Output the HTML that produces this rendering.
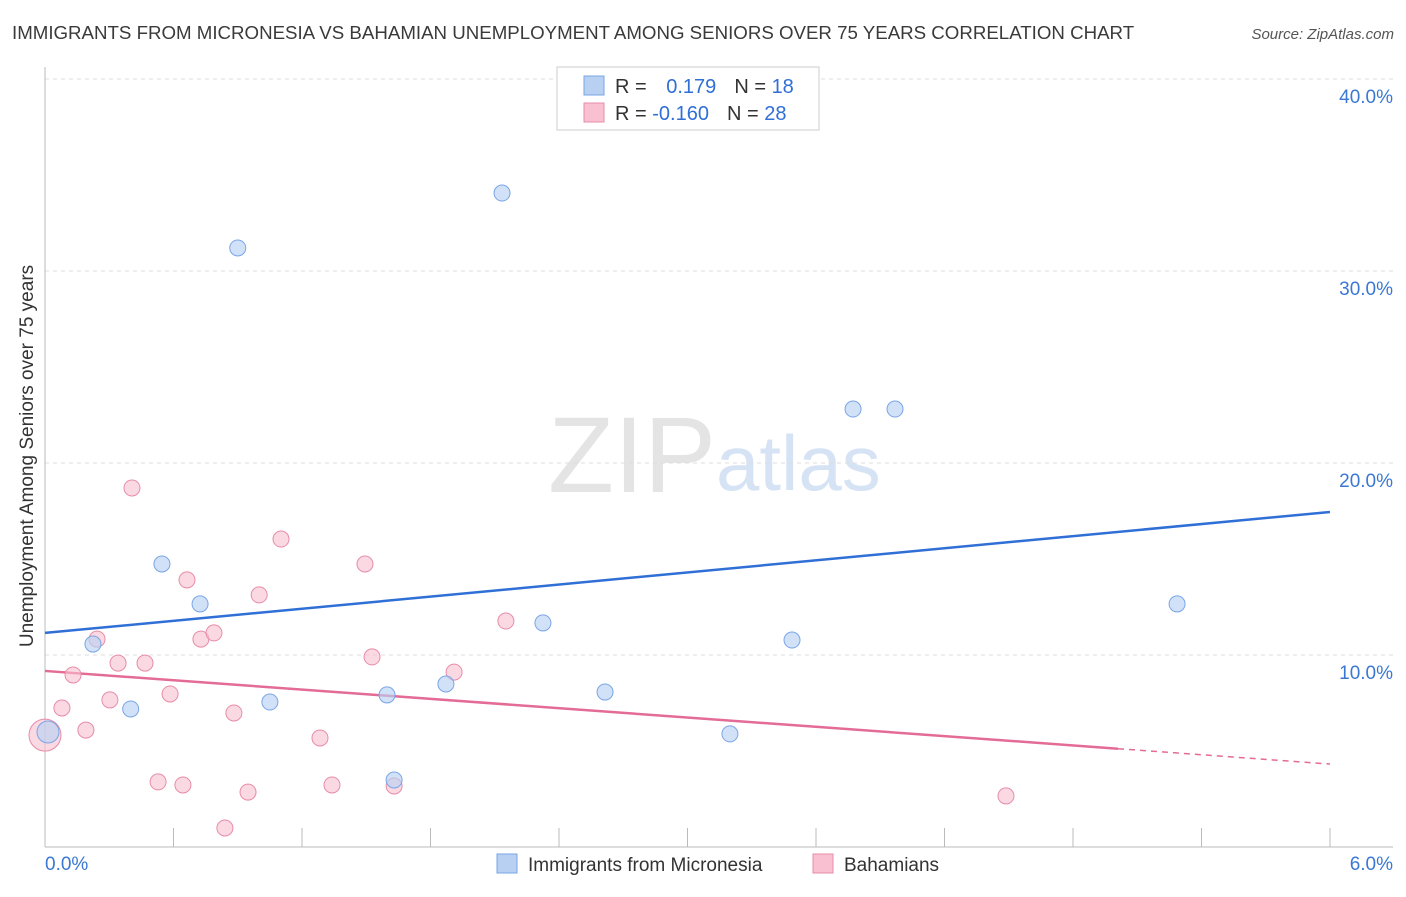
<!DOCTYPE html>
<html><head><meta charset="utf-8"><style>
body{margin:0;background:#fff;font-family:"Liberation Sans",sans-serif;}
svg text{font-family:"Liberation Sans",sans-serif;}
</style></head><body>
<svg id="chart" width="1406" height="892" viewBox="0 0 1406 892">
<text x="12" y="39" font-size="18.7" fill="#3a3a3a">IMMIGRANTS FROM MICRONESIA VS BAHAMIAN UNEMPLOYMENT AMONG SENIORS OVER 75 YEARS CORRELATION CHART</text>
<text x="1394" y="39" font-size="15" fill="#555" text-anchor="end" font-style="italic">Source: ZipAtlas.com</text>
<text x="716" y="492" font-size="108" fill="#e4e4e4" text-anchor="end" font-family="Liberation Serif">ZIP</text>
<text x="716" y="490" font-size="78" fill="#d6e3f5">atlas</text>
<text transform="translate(33,456) rotate(-90)" font-size="19" fill="#333" text-anchor="middle">Unemployment Among Seniors over 75 years</text>
<g id="grid"></g><g id="axes"></g><g id="lines"></g><g id="pts"></g>
<g>
<rect x="557" y="67" width="262" height="63" fill="#fff" stroke="#ccc"/>
<rect x="584" y="76" width="20" height="19" fill="#b8d1f3" stroke="#7aa5e6"/>
<rect x="584" y="103" width="20" height="19" fill="#f8c0d0" stroke="#e78ca8"/>
<text x="615" y="93" font-size="20" fill="#333">R = <tspan fill="#2f6fd6" dx="14">0.179</tspan><tspan dx="18" fill="#333">N = </tspan><tspan fill="#2f6fd6">18</tspan></text>
<text x="615" y="120" font-size="20" fill="#333">R = <tspan fill="#2f6fd6">-0.160</tspan><tspan dx="18" fill="#333">N = </tspan><tspan fill="#2f6fd6">28</tspan></text>
</g>
<g>
<rect x="497" y="854" width="20" height="19" fill="#b8d1f3" stroke="#7aa5e6"/>
<text x="528" y="871" font-size="19" fill="#333">Immigrants from Micronesia</text>
<rect x="813" y="854" width="20" height="19" fill="#f8c0d0" stroke="#e78ca8"/>
<text x="844" y="871" font-size="19" fill="#333">Bahamians</text>
</g>
</svg>
<script>
const blueX=[0.014,0.224,0.40,0.546,0.724,0.90,1.05,1.597,1.63,1.872,2.134,2.325,2.615,3.198,3.488,3.773,3.969,5.286];
const blueY=[5.99,10.57,7.19,14.74,12.66,31.2,7.55,7.92,3.49,8.49,34.06,11.67,8.07,5.89,10.78,22.81,22.81,12.66];
const pinkX=[0,0.079,0.131,0.191,0.243,0.303,0.341,0.406,0.467,0.528,0.584,0.644,0.663,0.728,0.789,0.840,0.882,0.948,1.0,1.102,1.284,1.34,1.494,1.527,1.63,1.91,2.152,4.487];
const pinkY=[5.83,7.24,8.96,6.09,10.83,7.66,9.58,18.70,9.58,3.39,7.97,3.23,13.91,10.83,11.15,0.99,6.98,2.86,13.13,16.04,5.68,3.23,14.74,9.90,3.18,9.11,11.77,2.66];
const blueTrend=[11.15,17.45];
const pinkTrend=[9.17,5.16,4.32];
const pinkSolidEnd=5.12;
const yTicks=[10,20,30,40];
const yTickLabels=["10.0%","20.0%","30.0%","40.0%"];
const xLabels=["0.0%","6.0%"];
const NS="http://www.w3.org/2000/svg";
const X=v=>45+v*(1285/6), Y=v=>847-v*19.2;
function mk(t,a,p){const e=document.createElementNS(NS,t);for(const k in a)e.setAttribute(k,a[k]);document.getElementById(p).appendChild(e);return e;}
yTicks.forEach((t,i)=>{
 const l=mk('line',{x1:45,x2:1393,y1:Y(t),y2:Y(t),stroke:'#ddd','stroke-dasharray':'4,4'},'grid');
 
 
 const tx=mk('text',{x:1393,y:Y(t)+24,'font-size':19,fill:'#3a78d4','text-anchor':'end'},'grid');
 tx.textContent=yTickLabels[i];
 
 
});
mk('line',{x1:45,x2:45,y1:67,y2:847,stroke:'#bbb'},'axes');
mk('line',{x1:45,x2:1393,y1:847,y2:847,stroke:'#bbb'},'axes');
for(let i=0;i<=10;i++){const t=mk('line',{x1:X(i*0.6),x2:X(i*0.6),y1:828,y2:847,stroke:'#bbb'},'axes');
 
 }
[[0,'start',45],[6,'end',1393]].forEach((d,i)=>{const t=mk('text',{x:d[2],y:870,'font-size':19,fill:'#3a78d4','text-anchor':d[1]},'axes');t.textContent=xLabels[i];
 
 });
let bl=mk('line',{x1:X(0),y1:Y(blueTrend[0]),x2:X(6),y2:Y(blueTrend[1]),stroke:'#2f6fd6','stroke-width':2.5},'lines');


const xe=(pinkTrend[0]-pinkSolidEnd)/(pinkTrend[0]-pinkTrend[2])*6;
let pl=mk('line',{x1:X(0),y1:Y(pinkTrend[0]),x2:X(xe),y2:Y(pinkSolidEnd),stroke:'#e36b96','stroke-width':2.5},'lines');


let pd=mk('line',{x1:X(xe),y1:Y(pinkSolidEnd),x2:X(6),y2:Y(pinkTrend[2]),stroke:'#e36b96','stroke-width':1.5,'stroke-dasharray':'6,5'},'lines');


pinkX.forEach((x,i)=>{const c=mk('circle',{cx:X(x),cy:Y(pinkY[i]),r:i==0?16:8,fill:'#f8c0d0','fill-opacity':0.6,stroke:'#e78ca8'},'pts');
 
 });
blueX.forEach((x,i)=>{const c=mk('circle',{cx:X(x),cy:Y(blueY[i]),r:i==0?11:8,fill:'#b8d1f3','fill-opacity':0.65,stroke:'#7aa5e6'},'pts');
 
 });
</script>
</body></html>
